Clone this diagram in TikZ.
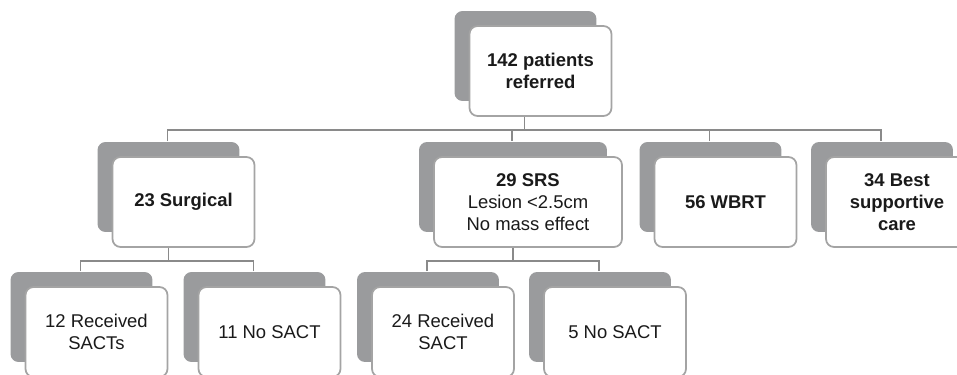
\documentclass[tikz,border=0pt]{standalone}
\usepackage{fontspec}
\setmainfont{Liberation Sans}
\usetikzlibrary{shadows,calc}

\definecolor{cardgray}{HTML}{9A9B9D}
\definecolor{rimgray}{HTML}{A4A4A4}
\definecolor{wiregray}{HTML}{8A8A8A}
\definecolor{inkgray}{HTML}{1A1A1A}

\begin{document}
\begin{tikzpicture}[x=0.02cm, y=-0.02cm, line width=1pt,
  font=\fontsize{10.5}{12.5}\selectfont,
  card/.style={draw=rimgray, fill=white, rounded corners=0.16cm, align=center,
               text=inkgray, inner sep=2pt, minimum width=2.84cm, minimum height=1.8cm,
               general shadow={fill=cardgray, shadow xshift=-0.3cm, shadow yshift=0.3cm}},
  head/.style={card, font=\fontsize{10.5}{12.5}\selectfont\bfseries},
  wire/.style={draw=wiregray}]

\clip (0,0) rectangle (957,375);

\node[head] (ref)  at (540.5,71) {142 patients\\referred};

\node[head] (surg) at (183.5,202) {23 Surgical};
\node[card, minimum width=3.76cm] (srs) at (528,202)
  {\textbf{29 SRS}\\Lesion <2.5cm\\No mass effect};
\node[head] (wbrt) at (725.5,202) {56 WBRT};
\node[head] (best) at (897,202)   {34 Best\\supportive\\care};

\node[card] (surgsact) at (96.5,332)  {12 Received\\SACTs};
\node[card] (surgnone) at (269.5,332) {11 No SACT};
\node[card] (srssact)  at (443,332)   {24 Received\\SACT};
\node[card] (srsnone)  at (615,332)   {5 No SACT};

% main bus below the referral box
\coordinate (bus) at ($(ref.south)+(-16,13)$);
\draw[wire] ($(ref.south)+(-16,0)$) -- (bus);
\foreach \n in {surg,srs,wbrt,best}
  \draw[wire] ($(\n.north)+(-16,-15)$) |- (bus);

% second level: split by SACT
\foreach \p/\a/\b in {surg/surgsact/surgnone, srs/srssact/srsnone} {
  \coordinate (\p bus) at ($(\p.south)+(-15,13)$);
  \draw[wire] ($(\p.south)+(-15,0)$) -- (\p bus);
  \draw[wire] ($(\a.north)+(-16,-15)$) |- (\p bus);
  \draw[wire] ($(\b.north)+(-16,-15)$) |- (\p bus);
}

\end{tikzpicture}
\end{document}
